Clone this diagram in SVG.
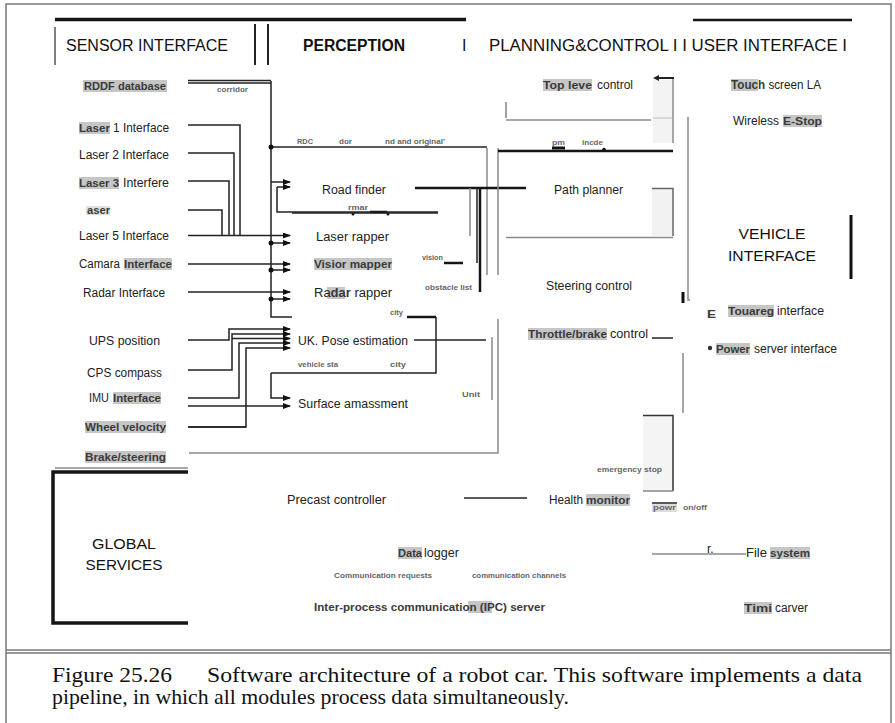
<svg xmlns="http://www.w3.org/2000/svg" width="895" height="723" viewBox="0 0 895 723">
<defs>
<style>
.lbl{font-family:"Liberation Sans",Arial,sans-serif;font-size:12px;fill:#222}
.hl{font-family:"Liberation Sans",Arial,sans-serif;font-size:11px;font-weight:bold;fill:#3a3a3a}
.bg{fill:#c6c6c6}
.tiny{font-family:"Liberation Sans",Arial,sans-serif;font-size:7px;font-weight:bold;fill:#666}
.hdr{font-family:"Liberation Sans",Arial,sans-serif;font-size:16px;fill:#111}
.big{font-family:"Liberation Sans",Arial,sans-serif;font-size:15.5px;fill:#111}
.cap{font-family:"Liberation Serif","Times New Roman",serif;font-size:21px;fill:#111}
.ln{stroke:#222;stroke-width:1.5;fill:none}
.th{stroke:#151515;stroke-width:2.5;fill:none}
.gr{stroke:#8a8a8a;stroke-width:1.5;fill:none}
.fr{stroke:#7a7a7a;stroke-width:1.5;fill:none}
</style>
<marker id="ar" markerWidth="8" markerHeight="6" refX="7" refY="3" orient="auto" markerUnits="userSpaceOnUse">
<path d="M0,0 L8,3 L0,6 z" fill="#111"/>
</marker>
</defs>
<rect width="895" height="723" fill="#fff"/>
<g id="frame">
<path class="fr" d="M6,723 V4 H891 V723"/>
<path class="fr" d="M6,650 H891 M6,653 H891"/>
</g>
<g id="header">
<path d="M55,19.5 H466" stroke="#151515" stroke-width="3.5"/>
<path d="M693,20 H852" stroke="#151515" stroke-width="2.5"/>
<path d="M55,27 V65" stroke="#555" stroke-width="1.5"/>
<path d="M255,24 V65 M268,24 V65" stroke="#222" stroke-width="2"/>
<text class="hdr" x="66" y="51" textLength="162" lengthAdjust="spacingAndGlyphs">SENSOR INTERFACE</text>
<text class="hdr" x="303" y="51" font-weight="bold" textLength="102" lengthAdjust="spacingAndGlyphs">PERCEPTION</text>
<text class="hdr" x="462" y="51">I</text>
<text class="hdr" x="489" y="51" textLength="358" lengthAdjust="spacingAndGlyphs">PLANNING&amp;CONTROL I I USER INTERFACE I</text>
</g>
<g id="connectors">
<path class="ln" d="M188,80.5 H271 M188,83 H271" stroke-width="1.2"/>
<path class="ln" d="M271,81 V317 H292"/>
<path class="ln" d="M271,147 H487"/>
<path class="gr" d="M487,148 V275"/>
<path class="ln" d="M271,182 H290" marker-end="url(#ar)"/>
<path class="ln" d="M277,187 H290" marker-end="url(#ar)"/>
<path class="ln" d="M277,187 V212 H438"/>
<path class="ln" d="M188,125 H240 V235 M188,153 H234 V235 M188,181 H229 V235 M188,210 H222 V235"/>
<path class="ln" d="M188,235.5 H290" stroke-width="2" marker-end="url(#ar)"/>
<path class="ln" d="M271,243 H290" marker-end="url(#ar)"/>
<path class="ln" d="M188,264 H290" marker-end="url(#ar)"/>
<path class="ln" d="M271,270 H290" marker-end="url(#ar)"/>
<path class="ln" d="M188,292 H290" marker-end="url(#ar)"/>
<path class="ln" d="M271,299 H290" marker-end="url(#ar)"/>
<path class="ln" d="M188,340 H229 V329 H290" marker-end="url(#ar)"/>
<path class="ln" d="M188,370 H232 V334 H290" marker-end="url(#ar)"/>
<path class="ln" d="M232,338.5 H290" marker-end="url(#ar)"/>
<path class="ln" d="M188,398 H239 V343 H290" marker-end="url(#ar)"/>
<path class="ln" d="M188,427 H246 V348 H290" marker-end="url(#ar)"/>
<path class="ln" d="M188,427 H246" stroke-width="2.5"/>
<path class="ln" d="M271,373 V398 H290" marker-end="url(#ar)"/>
<path class="ln" d="M188,406 H290" marker-end="url(#ar)"/>
<path class="ln" d="M436,317 V373 H271"/>
<path class="th" d="M407,317 H436"/>
<path class="gr" d="M189,453 H498 V319"/>
<path class="ln" d="M414,340 H486"/>
<path class="gr" d="M55,468 H188" stroke-width="1.2"/>
<g fill="#111">
<circle cx="271" cy="147" r="2.5"/><circle cx="271" cy="243" r="2.5"/><circle cx="271" cy="270" r="2.5"/><circle cx="271" cy="299" r="2.5"/>
<circle cx="353" cy="214" r="1.5"/><circle cx="388" cy="214" r="1.5"/><circle cx="604" cy="149.5" r="1.8"/>
</g>
<path class="th" d="M415,188 H526"/>
<path class="gr" d="M470,188 V236"/>
<path class="ln" d="M477,188 V263"/>
<path class="th" d="M480,188 V292"/>
<path class="gr" d="M498,148 V275"/>
<path class="th" d="M444,263 H463"/>
<path class="th" d="M370,212 H387"/>
<path class="ln" d="M292,213 H438"/>
<path class="th" d="M498,151 H673"/>
<path d="M552,148 H565" stroke="#111" stroke-width="3"/>
<path class="gr" d="M506,120 H651"/>
<path d="M506,102 V118" stroke="#444" stroke-width="1"/>
<path class="gr" d="M506,237.5 H673"/>
<rect x="652" y="188" width="21" height="48" fill="#f2f2f2"/>
<path d="M652,188.5 H673 V236" stroke="#666" stroke-width="1.5" fill="none"/>
<rect x="653" y="80" width="20" height="63" fill="#f3f3f3"/>
<path class="gr" d="M673,78 V143"/>
<path d="M653,118 H673" stroke="#bbb" stroke-width="1"/>
<path d="M674,78 H655" stroke="#222" stroke-width="2"/>
<path d="M653,78 L659,75 L659,81 z" fill="#222"/>
<path class="gr" d="M688,117 V300 H690"/>
<path d="M683,292 V303" stroke="#111" stroke-width="3"/>
<path class="ln" d="M652,338 H673"/>
<path class="gr" d="M683,353 V413"/>
<path class="gr" d="M492,337 V400" stroke-width="2"/>
<rect x="643" y="415" width="30" height="76" fill="#f4f4f4"/>
<path d="M643,415.5 H673 V491" stroke="#333" stroke-width="1.5" fill="none"/>
<path class="gr" d="M643,491 H673"/>
<path class="ln" d="M464,498 H527"/>
<path class="ln" d="M652,503 H677" stroke-width="1.2"/>
<path class="gr" d="M652,554 H746"/>
<path d="M851,215 V279" stroke="#111" stroke-width="3"/>
<path d="M188,472 H53 V623 H188" stroke="#151515" stroke-width="3.5" fill="none"/>
</g>
<g id="rddf"><rect class="bg" x="83" y="80" width="84" height="12"/><text class="hl" x="84" y="90" textLength="82" lengthAdjust="spacingAndGlyphs">RDDF database</text></g>
<g id="laser1"><rect class="bg" x="79" y="122" width="31" height="12"/><text class="hl" x="79" y="132" textLength="31" lengthAdjust="spacingAndGlyphs">Laser</text><text class="lbl" x="113" y="132" textLength="56" lengthAdjust="spacingAndGlyphs">1 Interface</text></g>
<g id="laser2"><text class="lbl" x="79" y="159" textLength="90" lengthAdjust="spacingAndGlyphs">Laser 2 Interface</text></g>
<g id="laser3"><rect class="bg" x="79" y="177" width="40" height="12"/><text class="hl" x="79" y="187" textLength="40" lengthAdjust="spacingAndGlyphs">Laser 3</text><text class="lbl" x="123" y="187" textLength="46" lengthAdjust="spacingAndGlyphs">Interfere</text></g>
<g id="laser4"><rect x="86" y="206" width="24" height="9" fill="#e0e0e0"/><text class="hl" x="87" y="214" font-size="8" textLength="23" lengthAdjust="spacingAndGlyphs">aser</text></g>
<g id="laser5"><text class="lbl" x="79" y="240" textLength="90" lengthAdjust="spacingAndGlyphs">Laser 5 Interface</text></g>
<g id="camera"><text class="lbl" x="79" y="268" textLength="41" lengthAdjust="spacingAndGlyphs">Camara</text><rect class="bg" x="124" y="258" width="48" height="12"/><text class="hl" x="124" y="268" textLength="48" lengthAdjust="spacingAndGlyphs">Interface</text></g>
<g id="radar"><text class="lbl" x="83" y="297" textLength="82" lengthAdjust="spacingAndGlyphs">Radar Interface</text></g>
<g id="ups"><text class="lbl" x="89" y="345" textLength="71" lengthAdjust="spacingAndGlyphs">UPS position</text></g>
<g id="cps"><text class="lbl" x="87" y="377" textLength="75" lengthAdjust="spacingAndGlyphs">CPS compass</text></g>
<g id="imu"><text class="lbl" x="89" y="402" textLength="20" lengthAdjust="spacingAndGlyphs">IMU</text><rect class="bg" x="113" y="392" width="48" height="12"/><text class="hl" x="113" y="402" textLength="48" lengthAdjust="spacingAndGlyphs">Interface</text></g>
<g id="wheel"><rect class="bg" x="85" y="421" width="81" height="12"/><text class="hl" x="85" y="431" textLength="81" lengthAdjust="spacingAndGlyphs">Wheel velocity</text></g>
<g id="brake"><rect class="bg" x="85" y="451" width="81" height="12"/><text class="hl" x="85" y="461" textLength="81" lengthAdjust="spacingAndGlyphs">Brake/steering</text></g>
<g id="roadfinder"><text class="lbl" x="322" y="194" textLength="64" lengthAdjust="spacingAndGlyphs">Road finder</text></g>
<g id="laserrapper"><text class="lbl" x="316" y="241" textLength="73" lengthAdjust="spacingAndGlyphs">Laser rapper</text></g>
<g id="vision"><rect class="bg" x="314" y="258" width="78" height="12"/><text class="hl" x="314" y="268" textLength="78" lengthAdjust="spacingAndGlyphs">Visior mapper</text></g>
<g id="radarrapper"><rect class="bg" x="327" y="287" width="18" height="12"/><text class="lbl" x="314" y="297" textLength="78" lengthAdjust="spacingAndGlyphs">Ra<tspan font-weight="bold" fill="#3a3a3a">dar</tspan> rapper</text></g>
<g id="pose"><text class="lbl" x="298" y="345" textLength="110" lengthAdjust="spacingAndGlyphs">UK. Pose estimation</text></g>
<g id="surface"><text class="lbl" x="298" y="408" textLength="110" lengthAdjust="spacingAndGlyphs">Surface amassment</text></g>
<g id="toplevel"><rect class="bg" x="543" y="79" width="49" height="12"/><text class="hl" x="543" y="89" textLength="49" lengthAdjust="spacingAndGlyphs">Top leve</text><text class="lbl" x="597" y="89" textLength="36" lengthAdjust="spacingAndGlyphs">control</text></g>
<g id="pathplanner"><text class="lbl" x="554" y="194" textLength="69" lengthAdjust="spacingAndGlyphs">Path planner</text></g>
<g id="steering"><text class="lbl" x="546" y="290" textLength="86" lengthAdjust="spacingAndGlyphs">Steering control</text></g>
<g id="throttle"><rect class="bg" x="528" y="328" width="79" height="12"/><text class="hl" x="528" y="338" textLength="79" lengthAdjust="spacingAndGlyphs">Throttle/brake</text><text class="lbl" x="610" y="338" textLength="38" lengthAdjust="spacingAndGlyphs">control</text></g>
<g id="touch"><rect class="bg" x="731" y="79" width="27" height="12"/><text class="lbl" x="731" y="89" textLength="90" lengthAdjust="spacingAndGlyphs"><tspan font-weight="bold" fill="#3a3a3a">Touch</tspan> screen LA</text></g>
<g id="estop"><text class="lbl" x="733" y="125" textLength="46" lengthAdjust="spacingAndGlyphs">Wireless</text><rect class="bg" x="783" y="115" width="39" height="12"/><text class="hl" x="783" y="125" textLength="39" lengthAdjust="spacingAndGlyphs">E-Stop</text></g>
<g id="vehicle"><text class="big" x="772" y="239" text-anchor="middle" textLength="67" lengthAdjust="spacingAndGlyphs">VEHICLE</text><text class="big" x="772" y="261" text-anchor="middle" textLength="88" lengthAdjust="spacingAndGlyphs">INTERFACE</text></g>
<g id="touareg"><text class="hl" x="707" y="318" font-size="17" textLength="9" lengthAdjust="spacingAndGlyphs" fill="#222">E</text><rect class="bg" x="728" y="305" width="46" height="12"/><text class="hl" x="728" y="315" textLength="46" lengthAdjust="spacingAndGlyphs">Touareg</text><text class="lbl" x="777" y="315" textLength="47" lengthAdjust="spacingAndGlyphs">interface</text></g>
<g id="power"><circle cx="710" cy="348" r="2.2" fill="#333"/><rect class="bg" x="716" y="343" width="34" height="12"/><text class="hl" x="716" y="353" textLength="34" lengthAdjust="spacingAndGlyphs">Power</text><text class="lbl" x="754" y="353" textLength="83" lengthAdjust="spacingAndGlyphs">server interface</text></g>
<g id="globalservices"><text class="big" x="124" y="549" text-anchor="middle" textLength="64" lengthAdjust="spacingAndGlyphs">GLOBAL</text><text class="big" x="124" y="570" text-anchor="middle" textLength="77" lengthAdjust="spacingAndGlyphs">SERVICES</text></g>
<g id="precast"><text class="lbl" x="287" y="504" textLength="99" lengthAdjust="spacingAndGlyphs">Precast controller</text></g>
<g id="health"><text class="lbl" x="549" y="504" textLength="34" lengthAdjust="spacingAndGlyphs">Health</text><rect class="bg" x="586" y="494" width="44" height="12"/><text class="hl" x="586" y="504" textLength="44" lengthAdjust="spacingAndGlyphs">monitor</text></g>
<g id="datalogger"><rect class="bg" x="398" y="547" width="24" height="12"/><text class="hl" x="398" y="557" textLength="24" lengthAdjust="spacingAndGlyphs">Data</text><text class="lbl" x="424" y="557" textLength="35" lengthAdjust="spacingAndGlyphs">logger</text></g>
<g id="ipc"><rect class="bg" x="468" y="601" width="24" height="12"/><text class="hl" x="314" y="611" textLength="231" lengthAdjust="spacingAndGlyphs">Inter-process communication (IPC) server</text></g>
<g id="filesystem"><text class="lbl" x="746" y="557" textLength="21" lengthAdjust="spacingAndGlyphs">File</text><rect class="bg" x="770" y="547" width="40" height="12"/><text class="hl" x="770" y="557" textLength="40" lengthAdjust="spacingAndGlyphs">system</text></g>
<g id="timeserver"><rect class="bg" x="744" y="602" width="28" height="12"/><text class="hl" x="744" y="612" textLength="28" lengthAdjust="spacingAndGlyphs">Timi</text><text class="lbl" x="775" y="612" textLength="33" lengthAdjust="spacingAndGlyphs">carver</text></g>
<g id="tinylabels">
<text class="tiny" x="217" y="92" textLength="31" lengthAdjust="spacingAndGlyphs">corridor</text>
<text class="tiny" x="297" y="144" textLength="16" lengthAdjust="spacingAndGlyphs">RDC</text>
<text class="tiny" x="339" y="144" textLength="13" lengthAdjust="spacingAndGlyphs">dor</text>
<text class="tiny" x="385" y="144" textLength="60" lengthAdjust="spacingAndGlyphs">nd and original'</text>
<text class="tiny" x="552" y="145" font-weight="normal" fill="#222" font-size="9" textLength="13" lengthAdjust="spacingAndGlyphs">pm</text>
<text class="tiny" x="582" y="145" textLength="21" lengthAdjust="spacingAndGlyphs">incde</text>
<text class="tiny" x="348" y="210" textLength="20" lengthAdjust="spacingAndGlyphs">rmar</text>
<text class="tiny" x="422" y="260" textLength="21" lengthAdjust="spacingAndGlyphs">vision</text>
<text class="tiny" x="425" y="290" textLength="47" lengthAdjust="spacingAndGlyphs">obstacle list</text>
<text class="tiny" x="390" y="315" textLength="13" lengthAdjust="spacingAndGlyphs">city</text>
<text class="tiny" x="298" y="367" textLength="40" lengthAdjust="spacingAndGlyphs">vehicle sta</text>
<text class="tiny" x="390" y="367" textLength="16" lengthAdjust="spacingAndGlyphs">city</text>
<text class="tiny" x="462" y="397" textLength="18" lengthAdjust="spacingAndGlyphs">Unit</text>
<text class="tiny" x="597" y="472" textLength="65" lengthAdjust="spacingAndGlyphs">emergency stop</text>
<rect x="652" y="504" width="25" height="8" fill="#dcdcdc"/>
<text class="tiny" x="653" y="510" textLength="23" lengthAdjust="spacingAndGlyphs">powr</text>
<text class="tiny" x="683" y="510" textLength="24" lengthAdjust="spacingAndGlyphs">on/off</text>
<text class="lbl" x="707" y="553" font-size="9">r.</text>
<text class="tiny" x="334" y="578" textLength="98" lengthAdjust="spacingAndGlyphs">Communication requests</text>
<text class="tiny" x="472" y="578" textLength="94" lengthAdjust="spacingAndGlyphs">communication channels</text>
</g>
<g id="caption">
<text class="cap" x="52" y="682" textLength="120" lengthAdjust="spacingAndGlyphs">Figure 25.26</text>
<text class="cap" x="207" y="682" textLength="655" lengthAdjust="spacingAndGlyphs">Software architecture of a robot car. This software implements a data</text>
<text class="cap" x="52" y="704" textLength="517" lengthAdjust="spacingAndGlyphs">pipeline, in which all modules process data simultaneously.</text>
</g>
</svg>
